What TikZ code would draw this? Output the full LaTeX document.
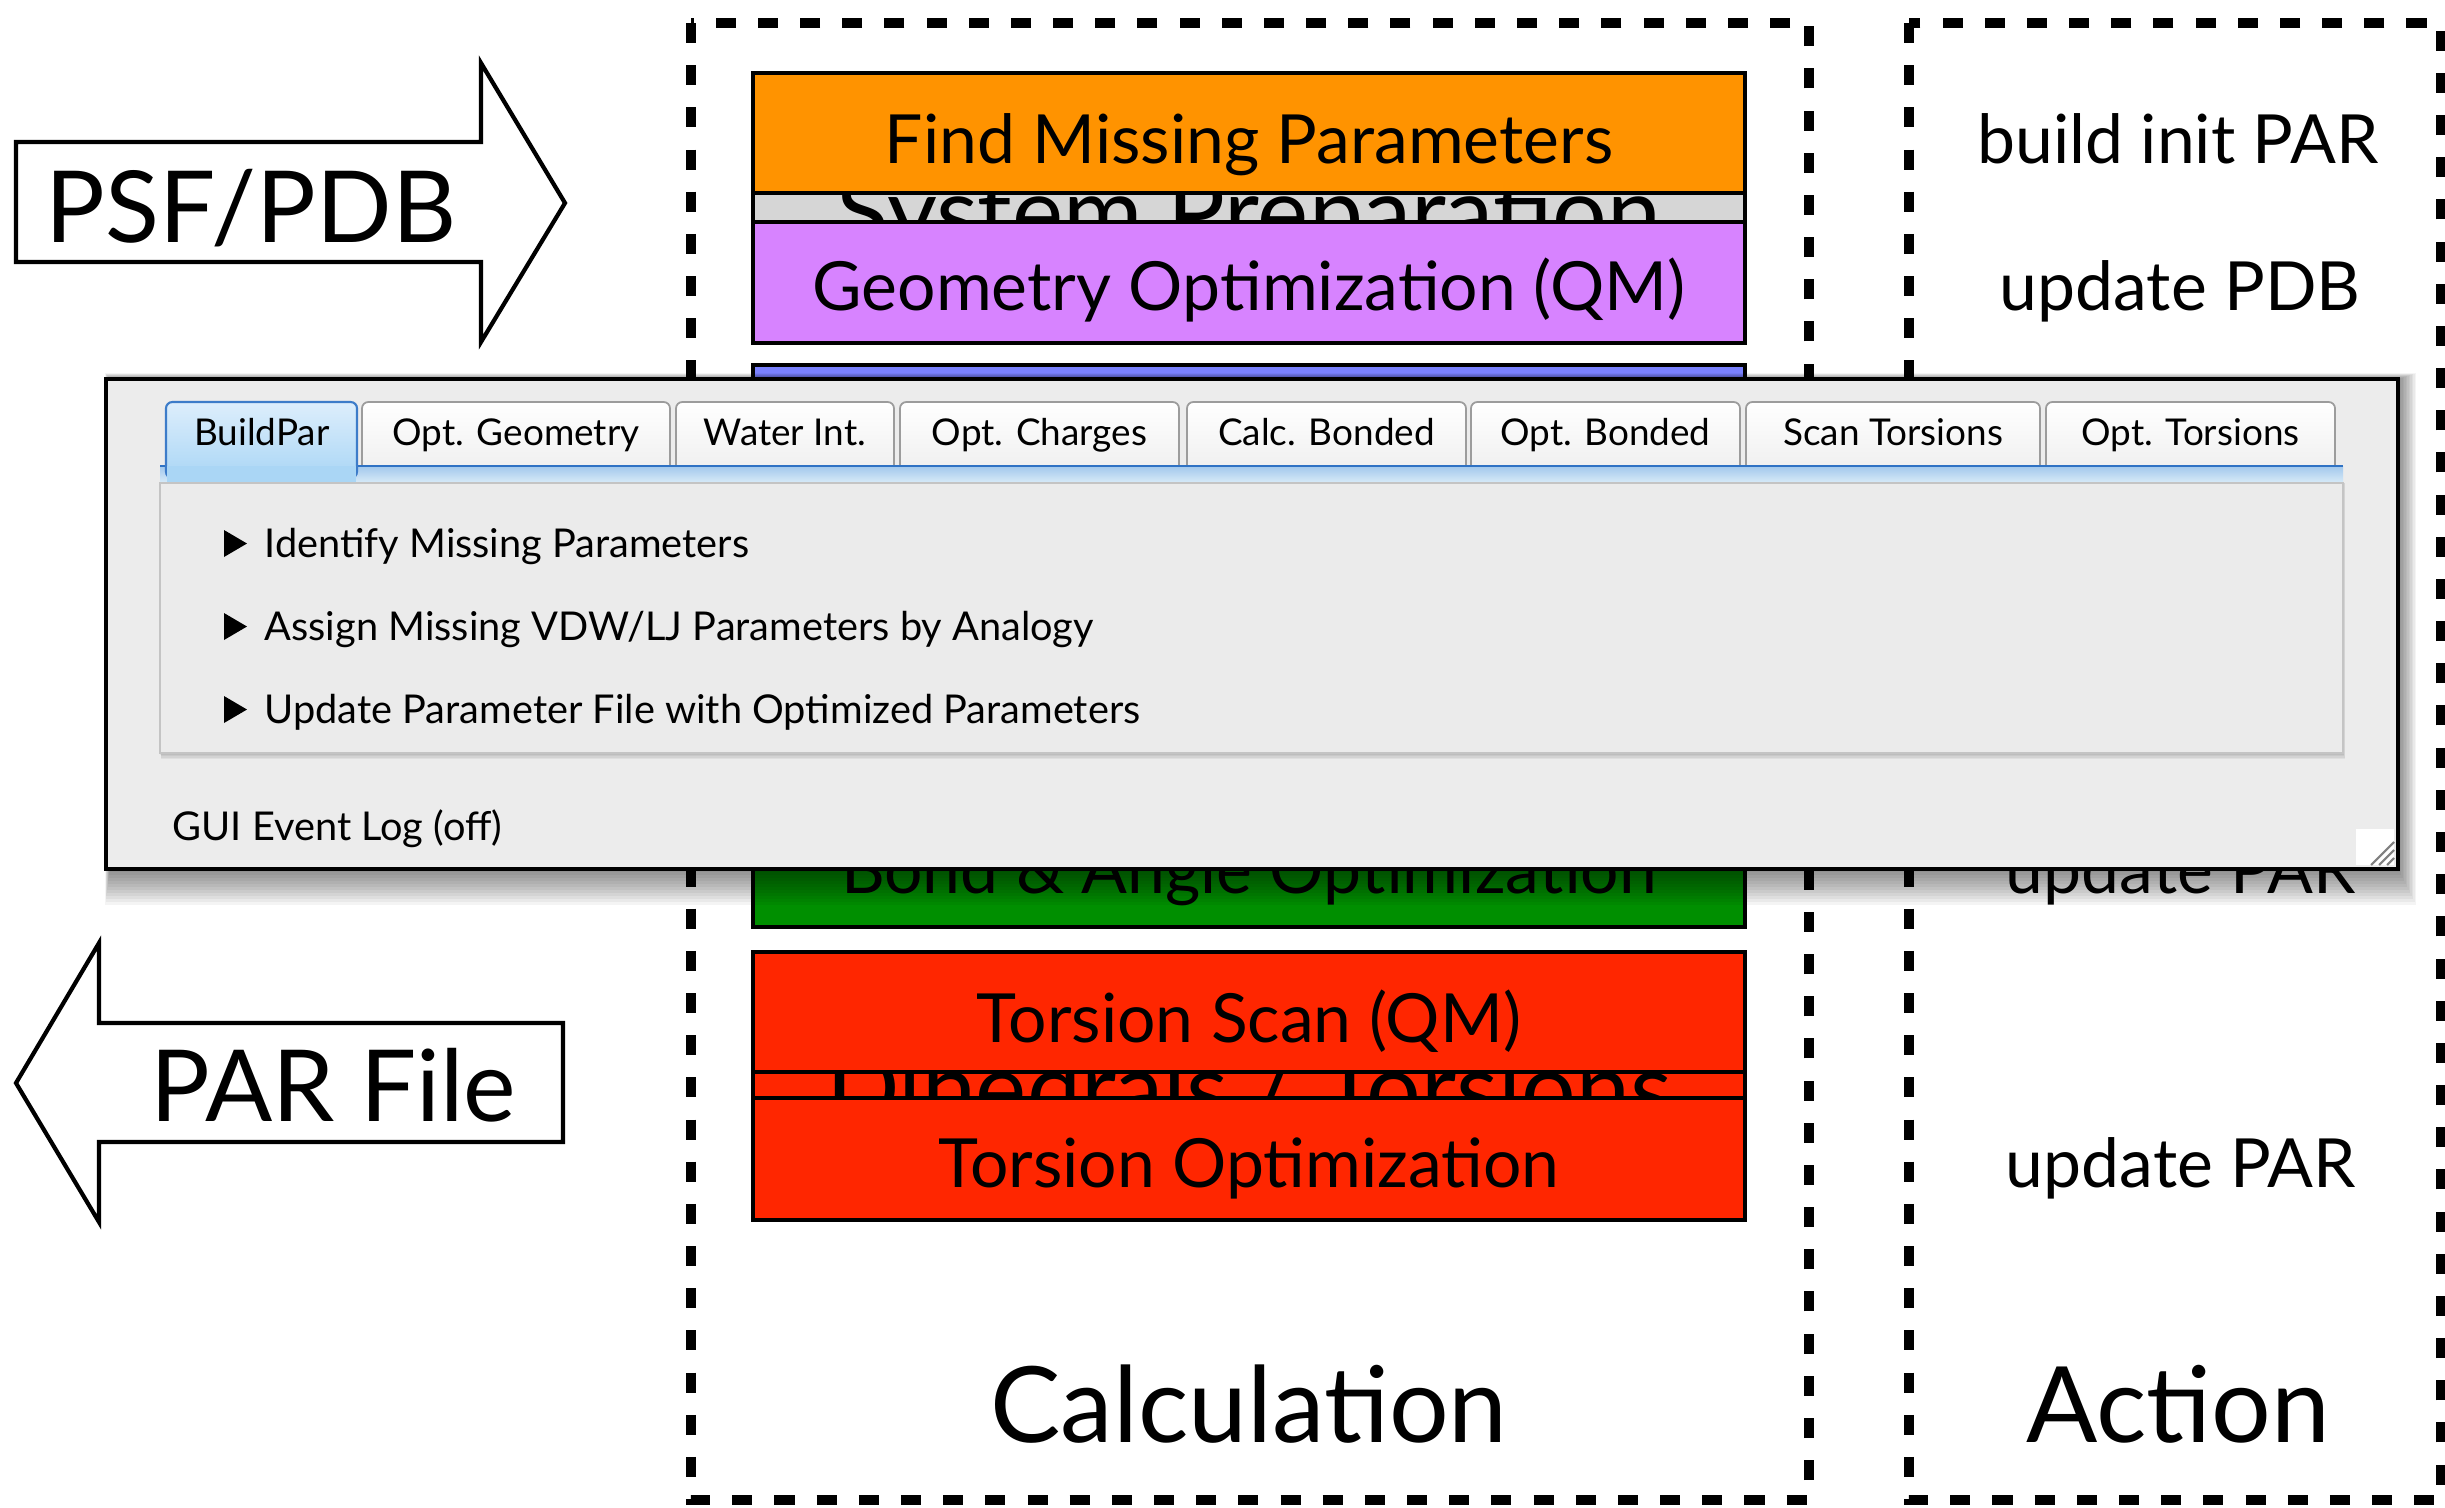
\documentclass[tikz,border=0pt]{standalone}
\usepackage{fontspec}
\setmainfont{Lato}
\definecolor{corange}{HTML}{FF9300}
\definecolor{cpurple}{HTML}{D783FF}
\definecolor{cblue}{HTML}{7A81FF}
\definecolor{cgreen}{HTML}{008F00}
\definecolor{cred}{HTML}{FF2600}
\definecolor{cgrey}{HTML}{D6D6D6}
\definecolor{winbg}{HTML}{ECECEC}
\definecolor{panelbg}{HTML}{EBEBEB}
\definecolor{panelborder}{HTML}{C4C4C4}
\definecolor{tabborder}{HTML}{9C9C9C}
\definecolor{tabbot}{HTML}{EDEDED}
\definecolor{acttop}{HTML}{DDEEFC}
\definecolor{actbot}{HTML}{AAD6F5}
\definecolor{actborder}{HTML}{3D7CC9}
\definecolor{bartop}{HTML}{A2C8EC}
\definecolor{barbot}{HTML}{D9EBF8}
\definecolor{barline}{HTML}{2F72C4}
\begin{document}
\begin{tikzpicture}[x=0.1mm,y=-0.1mm,
  dashbox/.style={draw=black,line width=2.6pt,dash pattern=on 5.7pt off 6.3pt},
  calcbox/.style={draw=black,line width=1.3pt,minimum width=99.2mm,inner sep=0pt},
  boxlabel/.style={inner sep=0pt,anchor=base,font=\fontsize{19.3}{22}\selectfont},
  grouplabel/.style={inner sep=0pt,anchor=base,font=\fontsize{27.5}{30}\selectfont},
  biglabel/.style={inner sep=0pt,anchor=base,font=\fontsize{30}{34}\selectfont},
  arrowlabel/.style={inner sep=0pt,anchor=base,font=\fontsize{28.3}{33}\selectfont},
  fatarrow/.style={draw=black,line width=1.2pt,fill=white,line join=miter},
  tabshape/.style={draw=tabborder,line width=0.5pt,top color=white,bottom color=tabbot,rounded corners=1.8pt},
  tablabel/.style={inner sep=0pt,anchor=base,font=\fontsize{10.5}{12}\selectfont},
  itemlabel/.style={inner sep=0pt,anchor=base west,font=\fontsize{11.3}{13}\selectfont},
]
\useasboundingbox (0,0) rectangle (2445,1507);
\fill[white] (0,0) rectangle (2445,1507);

% dashed columns
\draw[dashbox] (691,23) rectangle (1809,1500);
\draw[dashbox] (1909,23) rectangle (2441,1500);

% calculation boxes
\node[calcbox,fill=cgrey,minimum height=27mm] (sysbox) at (1249,208) {};
\node[grouplabel] (syslab) at (1249,246) {System Preparation};
\node[calcbox,fill=corange,minimum height=12mm] (fmp) at (1249,133) {};
\node[boxlabel] (fmplab) at (1249,163) {Find Missing Parameters};
\node[calcbox,fill=cpurple,minimum height=12.1mm] (geo) at (1249,282.5) {};
\node[boxlabel] (geolab) at (1249,310) {Geometry Optimization (QM)};
\node[calcbox,fill=cblue,minimum height=16.5mm] (bluebox) at (1249,447.5) {};
\node[calcbox,fill=cgreen,minimum height=12mm] (bond) at (1249,867) {};
\node[boxlabel] (bondlab) at (1249,893) {Bond \& Angle Optimization};
\node[calcbox,fill=cred,minimum height=26.8mm] (dihbox) at (1249,1086) {};
\node[grouplabel] (dihlab) at (1249,1122) {Dihedrals / Torsions};
\node[calcbox,fill=cred,minimum height=12mm] (scan) at (1249,1012) {};
\node[boxlabel] (scanlab) at (1249,1042) {Torsion Scan (QM)};
\node[calcbox,fill=cred,minimum height=12.2mm] (topt) at (1249,1159) {};
\node[boxlabel] (toptlab) at (1249,1187) {Torsion Optimization};

% action texts
\node[boxlabel] (act1) at (2178,163) {build init PAR};
\node[boxlabel] (act2) at (2180,310) {update PDB};
\node[boxlabel] (act3) at (2181,893) {update PAR};
\node[boxlabel] (act4) at (2181,1187) {update PAR};

% column titles
\node[biglabel] (calctitle) at (1249,1442) {Calculation};
\node[biglabel] (acttitle) at (2178,1442) {Action};

% fat arrows
\draw[fatarrow] (16,142) -- (481,142) -- (481,63) -- (565,203) -- (481,342) -- (481,262) -- (16,262) -- cycle;
\node[arrowlabel] (psf) at (251,242) {PSF/PDB};
\draw[fatarrow] (563,1023) -- (99,1023) -- (99,943) -- (16,1083) -- (99,1222) -- (99,1142) -- (563,1142) -- cycle;
\node[arrowlabel] (parfile) at (333,1121) {PAR File};

% window shadow
\foreach \k in {1,...,12}{
  \fill[black,opacity=0.045] ({106+4-\k*0.4},{379-\k*0.5}) rectangle ({2398+\k*1.5},{869+\k*3});
}

% window
\node[draw=black,line width=1.4pt,fill=winbg,minimum width=229.2mm,minimum height=49mm,inner sep=0pt] (win) at (1252,624) {};

% inactive tabs
\foreach \a/\b/\t in {362/670/Opt. Geometry,676/894/Water Int.,900/1179/Opt. Charges,1187/1466/Calc. Bonded,1471/1740/Opt. Bonded,1746/2040/Scan Torsions,2046/2335/Opt. Torsions}{
  \path[tabshape] (\a,402) rectangle (\b,480);
  \node[tablabel] (tab\a) at ({(\a+\b)/2},445) {\t};
}
% tab bar
\fill[top color=bartop,bottom color=barbot] (160,466) rectangle (2343,483);
\draw[barline,line width=0.6pt] (160,466) -- (2343,466);
% active tab
\path[draw=actborder,line width=0.6pt,top color=acttop,bottom color=actbot,rounded corners=1.8pt] (166,402) rectangle (357,478);
\fill[actbot] (167,466) rectangle (356,482);
\node[tablabel] (tab166) at (262,445) {BuildPar};

% panel
\foreach \k in {1,...,4}{
  \fill[black,opacity=0.05] ({160+\k*0.3},483) rectangle ({2343+\k*0.6},{753+\k*1.6});
}
\node[draw=panelborder,line width=0.5pt,fill=panelbg,minimum width=218.3mm,minimum height=27mm,inner sep=0pt] (panel) at (1251.5,618) {};

% items
\foreach \b in {557,640,723}{
  \fill[black] (224,{\b-27}) -- (247,{\b-13.5}) -- (224,\b) -- cycle;
}
\node[itemlabel] (item1) at (264,557) {Identify Missing Parameters};
\node[itemlabel] (item2) at (264,640) {Assign Missing VDW/LJ Parameters by Analogy};
\node[itemlabel] (item3) at (264,723) {Update Parameter File with Optimized Parameters};
\node[itemlabel] (evlog) at (172,840) {GUI Event Log (off)};

% resize grip
\fill[white] (2356,829) rectangle (2394,865);
\foreach \d in {0,8,16}{
  \draw[gray,line width=0.6pt] (2394,{842+\d}) -- ({2371+\d},865);
}
\end{tikzpicture}
\end{document}
